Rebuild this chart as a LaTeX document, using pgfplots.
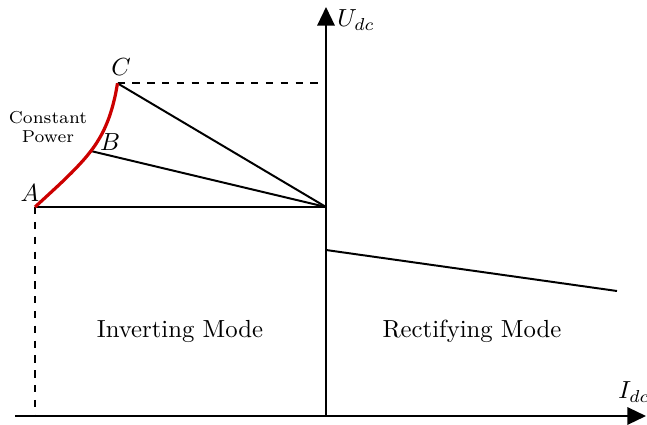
\documentclass[border=0pt]{standalone}
\usepackage{pgfplots}
\pgfplotsset{compat=1.18}
\usetikzlibrary{arrows.meta}
\begin{document}
\begin{tikzpicture}
\begin{axis}[
  scale only axis, width=261.7pt, height=171.5pt,
  xmin=0, xmax=647, ymin=0, ymax=424,
  hide axis, clip=false,
]
% axes
\addplot[black, line width=0.8pt, -{Triangle[length=7.5pt,width=7pt]}] coordinates {(15,8) (646,8)};
\addplot[black, line width=0.8pt, -{Triangle[length=7.5pt,width=7pt]}] coordinates {(326,8) (326,417)};
% dashed guides
\addplot[black, line width=0.8pt, dashed] coordinates {(117.5,340.7) (326,340.7)};
\addplot[black, line width=0.8pt, dashed] coordinates {(35,217) (35,8)};
% operating lines
\addplot[black, line width=0.8pt] coordinates {(35,217) (326,217)};
\addplot[black, line width=0.8pt] coordinates {(90.8,273) (326,217)};
\addplot[black, line width=0.8pt] coordinates {(117.5,340.7) (326,217)};
\addplot[black, line width=0.8pt] coordinates {(326,174) (617,133)};
% constant power curve
\addplot[red!80!black, line width=1.3pt, smooth] coordinates {
  (35,217) (48.5,229.4) (61.7,241.7) (74.3,254.1) (85.7,266.5) (95.2,278.9)
  (102.5,291.2) (108,303.6) (112.1,316) (115.2,328.3) (117.5,340.7)};
% labels
\node at (axis cs:30,231) {$A$};
\node at (axis cs:110,282) {$B$};
\node at (axis cs:121,357) {$C$};
\node[font=\scriptsize, align=center] at (axis cs:48,297) {Constant\\Power};
\node at (axis cs:180,93) {Inverting Mode};
\node at (axis cs:472,93) {Rectifying Mode};
\node at (axis cs:356,404) {$U_{dc}$};
\node at (axis cs:634,32) {$I_{dc}$};
\end{axis}
\pgfresetboundingbox
\path (0,0) rectangle (261.7pt,171.5pt);
\end{tikzpicture}
\end{document}
